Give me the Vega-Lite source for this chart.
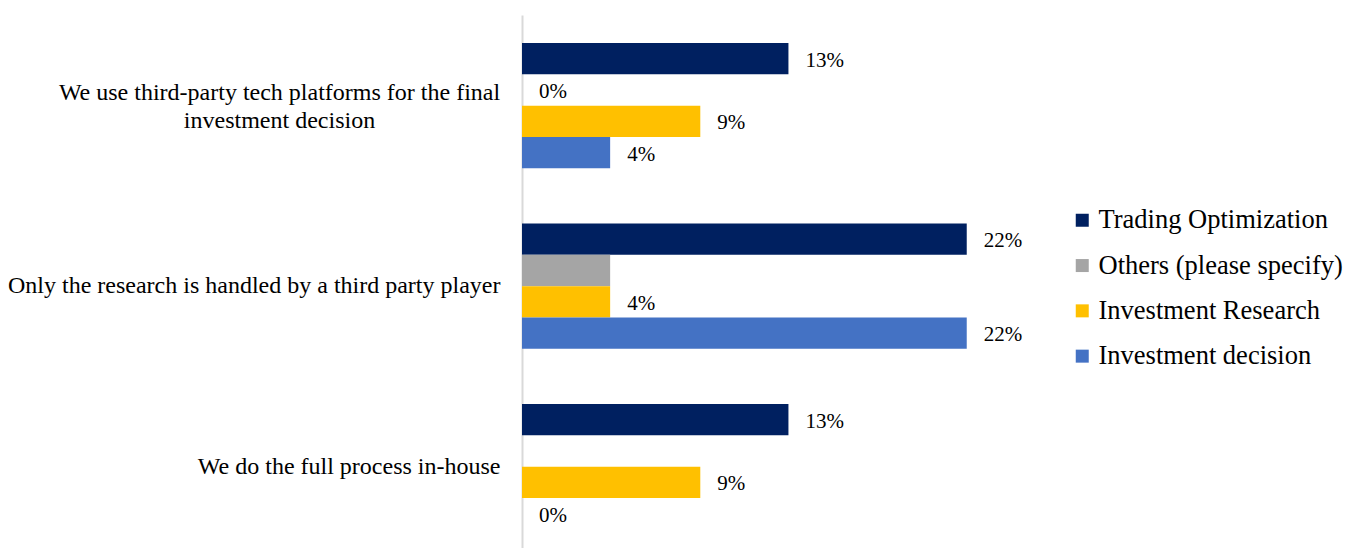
{
  "$schema": "https://vega.github.io/schema/vega-lite/v6.json",
  "autosize": "none",
  "width": 601,
  "height": 533,
  "padding": {"left": 522, "top": 15, "right": 235, "bottom": 0},
  "background": "white",
  "config": {"view": {"stroke": null}, "font": "Liberation Serif"},
  "data": {
    "values": [
      {"cat": "We use third-party tech platforms for the final investment decision", "series": "Trading Optimization", "value": 0.133},
      {"cat": "We use third-party tech platforms for the final investment decision", "series": "Others (please specify)", "value": 0},
      {"cat": "We use third-party tech platforms for the final investment decision", "series": "Investment Research", "value": 0.089},
      {"cat": "We use third-party tech platforms for the final investment decision", "series": "Investment decision", "value": 0.044},
      {"cat": "Only the research is handled by a third party player", "series": "Trading Optimization", "value": 0.222},
      {"cat": "Only the research is handled by a third party player", "series": "Others (please specify)", "value": 0.044},
      {"cat": "Only the research is handled by a third party player", "series": "Investment Research", "value": 0.044},
      {"cat": "Only the research is handled by a third party player", "series": "Investment decision", "value": 0.222},
      {"cat": "We do the full process in-house", "series": "Trading Optimization", "value": 0.133},
      {"cat": "We do the full process in-house", "series": "Investment Research", "value": 0.089},
      {"cat": "We do the full process in-house", "series": "Investment decision", "value": 0}
    ]
  },
  "encoding": {
    "y": {
      "field": "cat",
      "type": "nominal",
      "sort": null,
      "scale": {"paddingInner": 0.306, "paddingOuter": 0.1295, "align": 0.6},
      "axis": {
        "title": null,
        "ticks": false,
        "domainColor": "#d9d9d9",
        "domainWidth": 2,
        "labelFont": "Liberation Serif",
        "labelFontSize": 24,
        "labelColor": "#000000",
        "labelLimit": 0,
        "labelExpr": "datum.value == 'We use third-party tech platforms for the final investment decision' ? ['We use third-party tech platforms for the final', 'investment decision'] : datum.value",
        "labelAlign": {"condition": {"test": "datum.value == 'We use third-party tech platforms for the final investment decision'", "value": "center"}, "value": "right"},
        "labelPadding": {"condition": {"test": "datum.value == 'We use third-party tech platforms for the final investment decision'", "value": 243}, "value": 22},
        "labelOffset": {"condition": {"test": "datum.value == 'We use third-party tech platforms for the final investment decision'", "value": -13}, "value": 0},
        "labelLineHeight": 28
      }
    },
    "yOffset": {
      "field": "series",
      "type": "nominal",
      "sort": ["Trading Optimization", "Others (please specify)", "Investment Research", "Investment decision"],
      "scale": {"paddingInner": 0, "paddingOuter": 0}
    },
    "x": {
      "field": "value",
      "type": "quantitative",
      "scale": {"domain": [0, 0.3]},
      "axis": null
    }
  },
  "layer": [
    {
      "mark": {"type": "bar"},
      "encoding": {
        "color": {
          "field": "series",
          "type": "nominal",
          "sort": ["Trading Optimization", "Others (please specify)", "Investment Research", "Investment decision"],
          "scale": {
            "domain": ["Trading Optimization", "Others (please specify)", "Investment Research", "Investment decision"],
            "range": ["#002060", "#a5a5a5", "#ffc000", "#4472c4"]
          },
          "legend": {
            "title": null,
            "orient": "none",
            "legendX": 547,
            "legendY": 192,
            "symbolType": "square",
            "symbolSize": 169,
            "symbolStrokeWidth": 0,
            "labelFont": "Liberation Serif",
            "labelFontSize": 26.5,
            "labelColor": "#000000",
            "labelOffset": 3,
            "labelLimit": 0,
            "rowPadding": 18.3
          }
        }
      }
    },
    {
      "transform": [{"filter": "!(datum.series == 'Others (please specify)' && datum.value > 0)"}],
      "mark": {"type": "text", "align": "left", "baseline": "middle", "dx": 17, "dy": 2, "font": "Liberation Serif", "fontSize": 21, "color": "#000000"},
      "encoding": {
        "text": {"field": "value", "type": "quantitative", "format": ".0%"}
      }
    }
  ]
}
